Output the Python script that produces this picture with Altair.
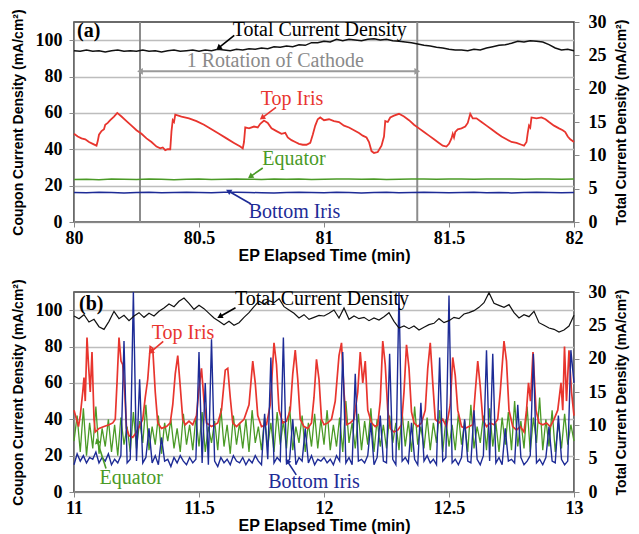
import math
import altair as alt
import pandas as pd

# ---------------- tick values ----------------
A_XTICKS = [80, 80.5, 81, 81.5, 82]
B_XTICKS = [11, 11.5, 12, 12.5, 13]
LEFT_TICKS = [0, 20, 40, 60, 80, 100]
RIGHT_TICKS = [0, 5, 10, 15, 20, 25, 30]

# ---------------- panel (a) data ----------------
A_RED = [
    (80.000, 48.5), (80.015, 47.0), (80.030, 46.0), (80.045, 45.5), (80.060, 44.0), (80.075, 43.0),
    (80.090, 42.0), (80.095, 44.5), (80.100, 48.0), (80.110, 50.0), (80.120, 51.0), (80.125, 53.5),
    (80.135, 54.5), (80.145, 56.0), (80.160, 58.0), (80.173, 60.0), (80.190, 58.0), (80.210, 55.5),
    (80.230, 53.0), (80.250, 50.5), (80.270, 48.5), (80.290, 46.0), (80.310, 44.0), (80.330, 41.5),
    (80.345, 40.5), (80.355, 41.0), (80.365, 39.5), (80.375, 40.0), (80.385, 40.0), (80.390, 50.0),
    (80.395, 56.0), (80.400, 55.0), (80.405, 59.0), (80.430, 58.0), (80.460, 57.0), (80.490, 55.5),
    (80.520, 53.5), (80.550, 51.0), (80.580, 48.5), (80.610, 46.0), (80.640, 43.5), (80.665, 41.5),
    (80.675, 40.5), (80.680, 44.0), (80.685, 52.0), (80.700, 51.5), (80.720, 52.5), (80.735, 52.0),
    (80.745, 54.0), (80.760, 55.8), (80.775, 54.5), (80.790, 51.5), (80.810, 50.0), (80.830, 48.5),
    (80.845, 49.0), (80.855, 46.5), (80.870, 45.0), (80.885, 44.0), (80.900, 43.0), (80.915, 42.5),
    (80.930, 42.5), (80.945, 43.5), (80.955, 48.0), (80.965, 53.0), (80.975, 56.5), (80.985, 57.5),
    (81.000, 56.0), (81.020, 56.5), (81.040, 55.5), (81.060, 55.0), (81.080, 53.0), (81.100, 52.0),
    (81.120, 50.5), (81.140, 49.0), (81.155, 47.5), (81.170, 46.5), (81.180, 44.0), (81.190, 39.0),
    (81.200, 38.0), (81.215, 38.5), (81.230, 42.0), (81.240, 47.0), (81.245, 55.5), (81.255, 55.0),
    (81.265, 57.5), (81.280, 58.5), (81.300, 59.5), (81.320, 58.0), (81.340, 56.0), (81.360, 53.5),
    (81.380, 51.5), (81.400, 49.5), (81.420, 47.5), (81.440, 45.5), (81.460, 43.5), (81.475, 42.0),
    (81.490, 41.5), (81.500, 43.0), (81.510, 46.0), (81.515, 48.5), (81.520, 46.5), (81.525, 49.5),
    (81.535, 51.0), (81.550, 51.5), (81.565, 52.5), (81.575, 54.5), (81.585, 59.5), (81.595, 57.0),
    (81.610, 57.0), (81.630, 55.0), (81.650, 53.0), (81.670, 51.0), (81.690, 49.0), (81.710, 47.0),
    (81.730, 45.5), (81.750, 44.0), (81.770, 43.5), (81.790, 42.5), (81.800, 42.0), (81.810, 44.0),
    (81.815, 49.0), (81.820, 53.0), (81.825, 52.0), (81.830, 57.5), (81.850, 57.0), (81.870, 57.5),
    (81.886, 56.5), (81.900, 55.0), (81.920, 53.0), (81.940, 51.5), (81.955, 50.5), (81.965, 49.5),
    (81.975, 47.0), (81.985, 45.5), (82.000, 44.0),
]

A_FLAT_START, A_FLAT_STEP = 80.0, 0.05
A_GREEN = [
    23.4, 23.5, 23.3, 23.6, 23.5, 23.4, 23.6, 23.5, 23.3, 23.5,
    23.6, 23.4, 23.5, 23.7, 23.5, 23.4, 23.6, 23.5, 23.6, 23.4,
    23.5, 23.7, 23.6, 23.5, 23.6, 23.4, 23.5, 23.7, 23.6, 23.5,
    23.7, 23.6, 23.5, 23.7, 23.6, 23.6, 23.5, 23.7, 23.6, 23.5,
    23.6,
]
A_BLUE = [
    16.2, 16.1, 16.3, 16.2, 16.0, 16.2, 16.3, 16.1, 16.2, 16.3,
    16.2, 16.1, 16.3, 16.4, 16.2, 16.1, 16.0, 16.2, 16.3, 16.2,
    16.1, 16.3, 16.2, 16.0, 16.2, 16.3, 16.1, 16.2, 16.3, 16.2,
    16.1, 16.2, 16.3, 16.1, 16.2, 16.0, 16.2, 16.3, 16.2, 16.1,
    16.2,
]
A_BLACK_START, A_BLACK_STEP = 80.0, 0.025
A_BLACK = [
    25.7, 25.6, 25.8, 25.6, 25.7, 25.5, 25.7, 25.8, 25.6, 25.7,
    25.6, 25.8, 25.6, 25.7, 25.5, 25.7, 25.8, 25.6, 25.7, 25.8,
    25.6, 25.8, 25.7, 25.9, 25.8, 25.7, 25.9, 25.8, 26.0, 25.9,
    26.1, 26.0, 26.3, 26.2, 26.4, 26.3, 26.6, 26.5, 26.9, 26.9,
    27.1, 27.0, 27.4, 27.2, 27.4, 27.3, 27.2, 27.4, 27.5, 27.3,
    27.4, 27.2, 27.1, 27.0, 26.9, 26.7, 26.5, 26.4, 26.2, 26.1,
    25.9, 25.8, 25.8, 25.7, 25.9, 25.8, 26.1, 26.3, 26.5, 26.6,
    26.8, 27.1, 27.0, 27.2, 27.1, 27.0, 26.6, 26.1, 25.8, 25.9,
    25.7,
]

# ---------------- panel (b) data ----------------
B_RED = [
    (11.000, 45), (11.010, 40), (11.018, 36), (11.025, 42), (11.035, 55), (11.040, 63), (11.045, 50),
    (11.052, 85), (11.058, 70), (11.065, 55), (11.072, 77), (11.080, 40), (11.085, 33), (11.100, 35),
    (11.120, 36), (11.140, 37), (11.155, 38), (11.165, 40), (11.172, 60), (11.180, 85), (11.188, 72),
    (11.195, 70), (11.203, 55), (11.210, 35), (11.220, 31), (11.235, 30), (11.250, 33), (11.265, 37),
    (11.275, 40), (11.285, 52), (11.295, 62), (11.305, 80), (11.315, 79), (11.325, 55), (11.335, 38),
    (11.350, 35), (11.370, 36), (11.385, 38), (11.395, 48), (11.405, 65), (11.415, 75), (11.425, 58),
    (11.435, 40), (11.445, 37), (11.460, 39), (11.475, 37), (11.490, 42), (11.500, 57), (11.510, 68),
    (11.520, 50), (11.530, 38), (11.550, 36), (11.575, 38), (11.590, 45), (11.605, 67), (11.615, 68),
    (11.625, 52), (11.635, 38), (11.650, 36), (11.665, 38), (11.680, 40), (11.700, 48), (11.715, 72),
    (11.725, 60), (11.735, 42), (11.750, 36), (11.770, 37), (11.785, 48), (11.800, 82), (11.810, 70),
    (11.820, 45), (11.835, 38), (11.850, 39), (11.865, 45), (11.875, 65), (11.885, 78), (11.895, 62),
    (11.905, 40), (11.920, 36), (11.935, 35), (11.950, 38), (11.960, 52), (11.970, 73), (11.980, 62),
    (11.990, 40), (12.000, 37), (12.015, 38), (12.030, 40), (12.045, 50), (12.060, 75), (12.070, 82),
    (12.080, 55), (12.090, 37), (12.105, 38), (12.120, 40), (12.135, 55), (12.145, 77), (12.155, 60),
    (12.165, 72), (12.175, 45), (12.190, 38), (12.205, 36), (12.215, 37), (12.225, 50), (12.235, 83),
    (12.245, 70), (12.255, 45), (12.265, 35), (12.280, 33), (12.295, 34), (12.310, 37), (12.320, 55),
    (12.330, 81), (12.340, 68), (12.350, 44), (12.360, 38), (12.375, 36), (12.390, 38), (12.405, 45),
    (12.415, 68), (12.425, 82), (12.435, 60), (12.445, 40), (12.460, 38), (12.475, 40), (12.490, 36),
    (12.505, 48), (12.515, 74), (12.525, 64), (12.535, 45), (12.550, 36), (12.565, 35), (12.580, 36),
    (12.595, 37), (12.605, 55), (12.615, 72), (12.625, 58), (12.635, 40), (12.650, 36), (12.665, 38),
    (12.680, 37), (12.695, 40), (12.705, 55), (12.720, 83), (12.730, 72), (12.740, 45), (12.755, 36),
    (12.770, 34), (12.785, 36), (12.800, 33), (12.810, 45), (12.818, 60), (12.826, 50), (12.836, 77),
    (12.848, 45), (12.860, 38), (12.875, 37), (12.890, 38), (12.905, 36), (12.920, 40), (12.935, 45),
    (12.948, 60), (12.955, 45), (12.962, 80), (12.970, 50), (12.980, 78), (12.990, 55), (13.000, 42),
]

B_FAST_START, B_FAST_STEP = 11.0, 0.0125
B_GREEN = [
    28, 42, 22, 46, 20, 38, 24, 47, 21, 35, 25, 40, 22, 37, 20, 41, 26, 36, 22, 44,
    24, 39, 27, 48, 23, 36, 26, 42, 21, 38, 28, 40, 24, 35, 22, 43, 26, 37, 23, 41,
    25, 44, 22, 36, 27, 39, 23, 46, 25, 37, 21, 42, 26, 38, 24, 40, 22, 45, 27, 36,
    23, 41, 25, 38, 22, 44, 26, 39, 24, 47, 23, 36, 27, 42, 22, 38, 25, 43, 24, 40,
    26, 45, 23, 37, 25, 41, 22, 50, 27, 38, 24, 43, 23, 39, 26, 46, 22, 40, 25, 37,
    24, 42, 27, 38, 23, 44, 25, 39, 22, 47, 26, 36, 24, 41, 23, 38, 27, 45, 22, 40,
    25, 37, 23, 43, 26, 39, 22, 48, 24, 36, 27, 42, 23, 46, 25, 38, 22, 41, 26, 44,
    23, 50, 25, 39, 24, 47, 22, 41, 27, 52, 23, 40, 25, 45, 22, 38, 24, 43, 26, 37, 28,
]
B_BLUE = [
    15, 21, 17, 20, 16, 19, 18, 22, 16, 19, 17, 21, 15, 18, 16, 20, 83, 16, 18, 110,
    17, 62, 16, 19, 35, 16, 20, 15, 30, 17, 18, 14, 19, 16, 20, 17, 15, 19, 16, 18,
    77, 16, 60, 15, 84, 17, 14, 19, 16, 18, 15, 20, 17, 16, 19, 15, 18, 16, 20, 17,
    15, 43, 18, 74, 16, 19, 17, 85, 16, 18, 40, 15, 19, 17, 35, 16, 20, 15, 18, 17,
    19, 16, 18, 15, 20, 17, 77, 16, 19, 15, 65, 17, 18, 16, 20, 38, 15, 19, 42, 17,
    16, 76, 18, 15, 110, 17, 19, 16, 38, 18, 15, 49, 17, 20, 16, 18, 15, 74, 17, 19,
    108, 16, 18, 15, 19, 40, 17, 16, 45, 18, 15, 20, 78, 17, 76, 16, 19, 15, 35, 17,
    18, 16, 48, 19, 15, 17, 20, 76, 16, 18, 15, 19, 36, 17, 16, 42, 18, 15, 17, 78, 60,
]
B_BLACK_START, B_BLACK_STEP = 11.0, 0.02
B_BLACK = [
    26.4, 26.0, 26.6, 25.5, 25.9, 24.8, 24.4, 25.6, 27.1, 26.0,
    26.5, 25.7, 26.4, 26.9, 26.2, 26.8, 26.4, 27.1, 27.6, 28.2,
    27.8, 28.6, 29.1, 28.3, 27.4, 28.0, 27.5, 26.8, 26.1, 25.6,
    25.1, 25.6, 25.0, 25.4, 26.2, 26.9, 27.8, 28.6, 28.2, 28.7,
    28.4, 29.0, 27.8, 27.3, 26.8, 26.1, 26.6, 25.9, 26.2, 26.5,
    26.4, 26.8, 27.3, 26.1, 27.6, 25.9, 26.4, 26.0, 26.2, 25.7,
    26.1, 25.8, 26.3, 26.9, 25.6, 24.6, 24.9, 24.5, 24.9, 24.3,
    24.7, 25.1, 25.3, 26.0, 25.4, 25.7, 26.2, 26.0, 26.7, 26.9,
    27.2, 27.7, 28.4, 29.9, 28.3, 28.0, 27.7, 28.1, 26.9, 26.1,
    26.6, 26.3, 27.1, 25.4, 25.0, 24.6, 24.4, 24.0, 24.3, 24.9,
    26.5,
]

# ---------------- annotations (data coordinates) ----------------
RED, GREEN, BLUE, GRAY = "#e8352e", "#4a9a26", "#1d2b96", "#8a8a8a"

A_TEXTS = [
    ("(a)", 80.012, 104.8, "black", "bold", "left"),
    ("Total Current Density", 80.983, 105.4, "black", "normal", "center"),
    ("1 Rotation of Cathode", 80.805, 88.3, GRAY, "normal", "center"),
    ("Top Iris", 80.872, 67.6, RED, "normal", "center"),
    ("Equator", 80.880, 34.8, GREEN, "normal", "center"),
    ("Bottom Iris", 80.882, 5.4, BLUE, "normal", "center"),
]
A_ARROWS = [
    (80.641, 102.7, 80.581, 96.0, "black"),
    (80.808, 63.0, 80.755, 57.6, RED),
    (80.755, 29.7, 80.708, 25.2, GREEN),
    (80.708, 9.9, 80.621, 16.8, BLUE),
]
A_ROTATION = [80.264, 81.373]
A_ROTATION_LEVEL = 82.9

B_TEXTS = [
    ("(b)", 11.020, 103.5, "black", "bold", "left"),
    ("Total Current Density", 11.992, 106.0, "black", "normal", "center"),
    ("Top Iris", 11.436, 87.3, RED, "normal", "center"),
    ("Equator", 11.229, 7.7, GREEN, "normal", "center"),
    ("Bottom Iris", 11.960, 5.5, BLUE, "normal", "center"),
]
B_ARROWS = [
    (11.646, 101.3, 11.586, 96.7, "black"),
    (11.357, 82.9, 11.310, 77.3, RED),
    (11.128, 12.9, 11.094, 27.6, GREEN),
    (11.889, 9.4, 11.855, 16.6, BLUE),
]

W = 500
HA, HB = 200, 200
YMAX_L, YMAX_R = 110, 30


def pairs_df(pairs):
    return pd.DataFrame(pairs, columns=["t", "v"])


def grid_df(start, step, vals):
    return pd.DataFrame({"t": [round(start + step * i, 6) for i in range(len(vals))], "v": vals})


def make_panel(xdom, xticks, height, red, green, blue, black, texts, arrows, lw, rotation=None):
    xs = alt.Scale(domain=xdom, nice=False, zero=False)
    xax = alt.Axis(title="EP Elapsed Time (min)", values=xticks, format="~g", labelFlush=False,
                   titleFontSize=16, titlePadding=0, labelPadding=2, grid=False)
    X = alt.X("t:Q", scale=xs, axis=xax)
    ys = alt.Scale(domain=[0, YMAX_L], nice=False, zero=True)
    yax = alt.Axis(title="Coupon Current Density (mA/cm²)", values=LEFT_TICKS, grid=True,
                   labelPadding=7, titlePadding=10)
    Y = alt.Y("v:Q", scale=ys, axis=yax)

    layers = []
    if rotation is not None:
        rot_df = pd.DataFrame({"t": rotation})
        layers.append(alt.Chart(rot_df).mark_rule(color="#8c8c8c", strokeWidth=2).encode(x=X))
        arr = pd.DataFrame({"t": [rotation[0]], "t2": [rotation[1]], "v": [A_ROTATION_LEVEL]})
        layers.append(alt.Chart(arr).mark_rule(color="#9a9a9a", strokeWidth=2).encode(
            x=X, x2=alt.X2("t2:Q"), y=Y))
        heads = pd.DataFrame({"t": rotation, "v": [A_ROTATION_LEVEL] * 2,
                              "s": ["triangle-left", "triangle-right"]})
        layers.append(alt.Chart(heads).mark_point(filled=True, size=45, color="#9a9a9a", opacity=1).encode(
            x=X, y=Y, shape=alt.Shape("s:N", scale=None)))

    layers.append(alt.Chart(green).mark_line(color=GREEN, strokeWidth=lw[1]).encode(x=X, y=Y))
    layers.append(alt.Chart(red).mark_line(color=RED, strokeWidth=lw[0]).encode(x=X, y=Y))
    layers.append(alt.Chart(blue).mark_line(color=BLUE, strokeWidth=lw[2]).encode(x=X, y=Y))

    # arrows
    pxt = W / (xdom[1] - xdom[0])
    pxv = height / YMAX_L
    rows = []
    for (t0, v0, t1, v1, c) in arrows:
        dx = (t1 - t0) * pxt
        dy = -(v1 - v0) * pxv
        ang = math.degrees(math.atan2(dx, -dy)) % 360
        rows.append({"t": t0, "v": v0, "t2": t1, "v2": v1, "c": c, "ang": ang})
    adf = pd.DataFrame(rows)
    layers.append(alt.Chart(adf).mark_rule(strokeWidth=1.6).encode(
        x=X, y=Y, x2=alt.X2("t2:Q"), y2=alt.Y2("v2:Q"), color=alt.Color("c:N", scale=None)))
    hdf = adf[["t2", "v2", "c", "ang"]].rename(columns={"t2": "t", "v2": "v"})
    layers.append(alt.Chart(hdf).mark_point(shape="triangle", filled=True, size=40, opacity=1).encode(
        x=X, y=Y, color=alt.Color("c:N", scale=None), angle=alt.Angle("ang:Q", scale=None)))

    # texts
    tdf = pd.DataFrame(texts, columns=["txt", "t", "v", "c", "w", "a"])
    for (w, a), sub in tdf.groupby(["w", "a"]):
        layers.append(alt.Chart(sub).mark_text(font="Liberation Serif", fontSize=20, fontWeight=w,
                                               align=a, baseline="middle").encode(
            x=X, y=Y, text="txt:N", color=alt.Color("c:N", scale=None)))

    left = alt.layer(*layers)

    yr = alt.Y("v:Q", scale=alt.Scale(domain=[0, YMAX_R], nice=False),
               axis=alt.Axis(title="Total Current Density (mA/cm²)", orient="right", values=RIGHT_TICKS,
                             grid=False, titleAngle=270, titleBaseline="top", labelPadding=9,
                             titlePadding=8))
    right = alt.Chart(black).mark_line(color="#111111", strokeWidth=lw[3]).encode(x=X, y=yr)

    return alt.layer(left, right).resolve_scale(y="independent").properties(width=W, height=height)


panel_a = make_panel([80, 82], A_XTICKS, HA,
                     pairs_df(A_RED),
                     grid_df(A_FLAT_START, A_FLAT_STEP, A_GREEN),
                     grid_df(A_FLAT_START, A_FLAT_STEP, A_BLUE),
                     grid_df(A_BLACK_START, A_BLACK_STEP, A_BLACK),
                     A_TEXTS, A_ARROWS, (1.8, 1.5, 1.5, 1.5), rotation=A_ROTATION)

panel_b = make_panel([11, 13], B_XTICKS, HB,
                     pairs_df(B_RED),
                     grid_df(B_FAST_START, B_FAST_STEP, B_GREEN),
                     grid_df(B_FAST_START, B_FAST_STEP, B_BLUE),
                     grid_df(B_BLACK_START, B_BLACK_STEP, B_BLACK),
                     B_TEXTS, B_ARROWS, (1.7, 1.3, 1.4, 1.2))

chart = alt.vconcat(panel_a, panel_b, spacing=14).properties(
    padding={"left": 2, "top": 0, "right": 2, "bottom": 0}
).configure_axis(
    labelFont="Liberation Serif", labelFontWeight="bold", labelFontSize=18, labelColor="black",
    titleFont="Liberation Sans", titleFontWeight="bold", titleFontSize=14, titleColor="black",
    domainColor="#888888", tickColor="#888888", tickSize=5, gridColor="#bdbdbd", gridWidth=1.3,
).configure_view(stroke="#3a3a3a", strokeWidth=1.5)

chart.save("out.html", embed_options={"renderer": "svg", "actions": False})
